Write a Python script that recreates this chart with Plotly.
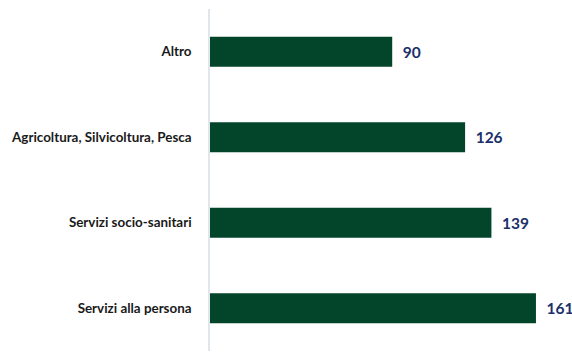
import plotly.graph_objects as go

categories = ["Altro", "Agricoltura, Silvicoltura, Pesca", "Servizi socio-sanitari", "Servizi alla persona"]
values = [90, 126, 139, 161]

fig = go.Figure(go.Bar(
    x=values,
    y=categories,
    orientation="h",
    marker=dict(color="#03452a", line=dict(width=0)),
    text=values,
    texttemplate="  %{text}",
    textposition="outside",
    textfont=dict(family="Lato", size=15.5, color="#1b2f6b", weight="bold"),
    cliponaxis=False,
    width=0.35,
))

fig.update_layout(
    width=572, height=352,
    margin=dict(l=210, r=0, t=9, b=1),
    paper_bgcolor="white", plot_bgcolor="white",
    showlegend=False,
    font=dict(family="Lato"),
    xaxis=dict(range=[0, 178.8], visible=False, showgrid=False, zeroline=False),
    yaxis=dict(
        autorange="reversed",
        showline=True, linecolor="#e1e6ea", linewidth=1.5,
        showgrid=False, zeroline=False,
        ticks="", ticklabelstandoff=14,
        tickfont=dict(family="Lato", size=13.4, color="#1a1a1a", weight="bold"),
    ),
)

fig.write_html("out.html")
